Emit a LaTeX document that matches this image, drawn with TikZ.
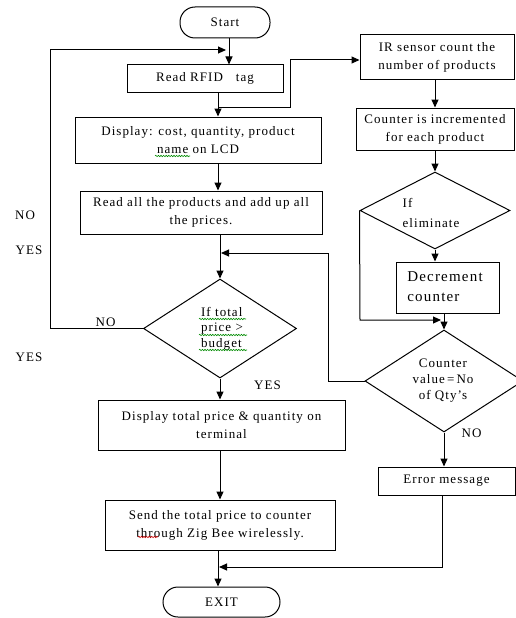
\documentclass[tikz,border=0pt]{standalone}
\usepackage{fontspec}
\setmainfont{Liberation Serif}[LetterSpace=8]
\usetikzlibrary{shapes.geometric,arrows.meta,decorations.pathmorphing}
\begin{document}
\begin{tikzpicture}[x=1pt,y=-1pt,
  font=\fontsize{13}{18}\selectfont,
  box/.style={draw, line width=1pt, rectangle, inner sep=0pt, align=center},
  term/.style={draw, line width=1pt, rounded corners=15pt, inner sep=0pt},
  dia/.style={draw, line width=1pt, diamond, inner sep=0pt},
  arr/.style={line width=1pt, -{Triangle[length=8pt,width=7pt]}},
  lbl/.style={inner sep=0pt},
  sq/.style={green!55!black, line width=0.6pt, decorate, decoration={snake, amplitude=0.7pt, segment length=2.6pt}},
  sqr/.style={sq, red!80!black}
]
\useasboundingbox (0,0) rectangle (515,618);
\fill[white] (0,0) rectangle (515,618);

% left column
\node[term, minimum width=90pt, minimum height=31pt] (start) at (225,22.5) {Start};
\node[box, minimum width=156pt, minimum height=27pt] (rfid) at (205,78.5) {Read RFID\quad tag};
\node[box, minimum width=246pt, minimum height=46pt] (disp) at (198,140) {Display: cost, quantity, product\\name on LCD};
\node[box, minimum width=242pt, minimum height=43pt] (readall) at (201,212.5) {Read all the products and add up all\\the prices.};
\node[dia, minimum width=153pt, minimum height=99pt] (tot) at (220,328.5) {};
\node[align=left, inner sep=0pt, font=\fontsize{13}{15.5}\selectfont] (tottxt) at (222,328.5) {If total\\price >\\budget};
\node[box, minimum width=247pt, minimum height=50pt] (distot) at (221.5,425) {Display total price \& quantity on\\terminal};
\node[box, minimum width=230pt, minimum height=50pt] (send) at (220,525) {Send the total price to counter\\through Zig Bee wirelessly.};
\node[term, minimum width=117pt, minimum height=30pt] (exit) at (221.5,602) {EXIT};

% right column
\node[box, minimum width=154pt, minimum height=44pt] (irs) at (437,57) {IR sensor count the\\number of products};
\node[box, minimum width=158pt, minimum height=42pt] (cnt) at (435,129) {Counter is incremented\\for each product};
\node[dia, minimum width=150pt, minimum height=77pt] (elim) at (435,210.5) {};
\node[align=left, inner sep=0pt, font=\fontsize{13}{20}\selectfont] (elimtxt) at (431,213) {If\\eliminate};
\node[box, minimum width=103pt, minimum height=51pt] (dec) at (447.5,287.5) {};
\node[align=left, inner sep=0pt, font=\fontsize{15}{20}\selectfont] (dectxt) at (445,287) {Decrement\\counter};
\node[dia, minimum width=158pt, minimum height=102pt] (cv) at (444,381) {};
\node[align=center, inner sep=0pt, font=\fontsize{13}{16}\selectfont] (cvtxt) at (443,381) {Counter\\value\,=\,No\\of Qty’s};
\node[box, minimum width=137pt, minimum height=28pt] (err) at (446.5,481) {Error message};

% labels
\node[lbl] (no1) at (25,215) {NO};
\node[lbl] (yes1) at (29,250) {YES};
\node[lbl] (yes2) at (29,357) {YES};
\node[lbl] (no2) at (105.5,322) {NO};
\node[lbl] (yes3) at (267.5,385) {YES};
\node[lbl] (no3) at (471.5,433) {NO};

% connectors
\coordinate (lx) at (50,50);
\coordinate (j1) at (218,107);
\coordinate (ir1) at (290,60);
\coordinate (j2) at (328,253);
\coordinate (j3) at (442,567);
\coordinate (j4) at (360,320);

\draw[arr] (start.south -| 229,0) -- (rfid.north -| 229,0);
\draw[arr] (tot.west) -| (lx) -- (226,50);
\draw[arr] (rfid.south -| j1) -- (disp.north -| j1);
\draw[arr] (j1) -| (ir1) -- (irs.west |- ir1);
\draw[arr] (disp.south -| j1) -- (readall.north -| j1);
\draw[arr] (readall.south -| tot.north) -- (tot.north);
\draw[arr] (cv.west) -| (j2) -- (221,253);
\draw[arr] (tot.south) -- (distot.north -| tot.south);
\draw[arr] (distot.south -| tot.south) -- (send.north -| tot.south);
\draw[arr] (send.south -| 218,0) -- (exit.north -| 218,0);
\draw[arr] (err.south -| j3) -- (j3) -- (219,567);

\draw[arr] (irs.south -| elim.north) -- (cnt.north -| elim.north);
\draw[arr] (cnt.south -| elim.north) -- (elim.north);
\draw[arr] (elim.south) -- (dec.north -| elim.south);
\draw[arr] (elim.west) -- (j4) -- (441,320);
\draw[arr] (dec.south -| cv.north) -- (cv.north);
\draw[arr] (cv.south) -- (err.north -| cv.south);

% spell-check squiggles
\draw[sq] (155,156) -- (190,156);
\draw[sq] (199,319) -- (246,319);
\draw[sq] (199,335) -- (247,335);
\draw[sq] (199,350) -- (247,350);
\draw[sqr] (138,537) -- (158,537);
\end{tikzpicture}
\end{document}
